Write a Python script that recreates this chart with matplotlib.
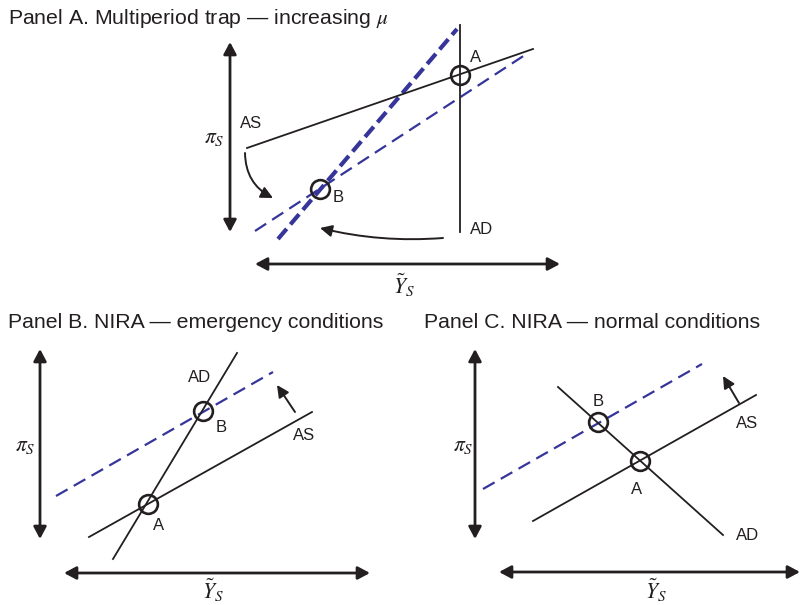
import matplotlib
matplotlib.use("Agg")
import matplotlib.pyplot as plt
from matplotlib.patches import FancyArrowPatch

plt.rcParams['font.family'] = ['Liberation Sans', 'DejaVu Sans']
plt.rcParams['mathtext.fontset'] = 'stix'

# ---------------- data (pixel coordinates of the schematic) ----------------
titles = ["Panel A. Multiperiod trap \u2014 increasing $\\mu$",
          "Panel B. NIRA \u2014 emergency conditions",
          "Panel C. NIRA \u2014 normal conditions"]
title_x = [8, 8, 424]
title_y = [19, 323, 323]

# axis double arrows
vaxis_x = [230, 40, 475]
vaxis_y0 = [42, 349, 349]
vaxis_y1 = [232, 539, 539]
haxis_y = [264, 573, 572]
haxis_x0 = [255, 64, 499]
haxis_x1 = [560, 370, 800]
pi_label_x = [214, 25, 463]
pi_label_y = [137, 446, 445]
y_label_x = [404, 213, 656]
y_label_y = [285, 590, 590]

# Panel A curves
A_AS_x = [247, 533]
A_AS_y = [148, 49]
A_AD_x = [460, 460]
A_AD_y = [25, 232]
A_thin_x = [255, 528]
A_thin_y = [231, 53]
A_thick_x = [278, 457]
A_thick_y = [239, 29]
A_circles_x = [460, 320]
A_circles_y = [75, 189]
A_labels = ["A", "B", "AS", "AD"]
A_labels_x = [470, 333, 240, 470]
A_labels_y = [57, 198, 123, 230]
A_curve1 = [(245, 153), (273, 198)]
A_curve2 = [(443, 238), (320, 228)]

# Panel B curves
B_AD_x = [113, 237]
B_AD_y = [559, 353]
B_AS_x = [89, 312]
B_AS_y = [537, 412]
B_dash_x = [56, 273]
B_dash_y = [496, 372]
B_circles_x = [148, 203]
B_circles_y = [504, 411]
B_labels = ["A", "B", "AD", "AS"]
B_labels_x = [153, 216, 188, 293]
B_labels_y = [525, 428, 377, 436]
B_arrow = [(295, 412), (277, 385)]

# Panel C curves
C_AD_x = [558, 723]
C_AD_y = [387, 535]
C_AS_x = [533, 756]
C_AS_y = [521, 395]
C_dash_x = [483, 702]
C_dash_y = [489, 364]
C_circles_x = [640, 598]
C_circles_y = [461, 422]
C_labels = ["A", "B", "AS", "AD"]
C_labels_x = [631, 593, 736, 736]
C_labels_y = [490, 402, 423, 536]
C_arrow = [(739, 403), (723, 376)]

# ---------------- style ----------------
INK = '#231f20'
BLUE = '#35359a'

fig = plt.figure(figsize=(8.01, 6.05), dpi=100)
ax = fig.add_axes([0, 0, 1, 1])
ax.set_xlim(0, 801)
ax.set_ylim(605, 0)
ax.axis('off')


def dbl_arrow(p0, p1):
    ax.add_patch(FancyArrowPatch(p0, p1,
                                 arrowstyle='<|-|>,head_length=0.6,head_width=0.32',
                                 mutation_scale=12, lw=2.0, color=INK,
                                 shrinkA=0, shrinkB=0))


def arrow(p0, p1, cs='arc3,rad=0'):
    ax.add_patch(FancyArrowPatch(p0, p1,
                                 arrowstyle='-|>,head_length=0.65,head_width=0.32',
                                 mutation_scale=11, lw=1.4, color=INK,
                                 connectionstyle=cs, shrinkA=0, shrinkB=0))


def circles(xs, ys):
    ax.plot(xs, ys, linestyle='none', marker='o', markersize=13.5,
            markerfacecolor='none', markeredgecolor=INK, markeredgewidth=1.9, zorder=5)


for i in range(3):
    ax.text(title_x[i], title_y[i], titles[i], fontsize=15.3, color=INK,
            ha='left', va='center')
    dbl_arrow((vaxis_x[i], vaxis_y0[i]), (vaxis_x[i], vaxis_y1[i]))
    dbl_arrow((haxis_x0[i], haxis_y[i]), (haxis_x1[i], haxis_y[i]))
    ax.text(pi_label_x[i], pi_label_y[i], r'$\pi_S$', fontsize=15.5, color=INK,
            ha='center', va='center')
    ax.text(y_label_x[i], y_label_y[i], r'$\tilde{Y}_S$', fontsize=15.5, color=INK,
            ha='center', va='center')

# Panel A
ax.plot(A_thin_x, A_thin_y, color=BLUE, lw=1.6, dashes=(6, 3.2))
ax.plot(A_thick_x, A_thick_y, color=BLUE, lw=3.0, dashes=(3.2, 1.4))
ax.plot(A_AS_x, A_AS_y, color=INK, lw=1.3)
ax.plot(A_AD_x, A_AD_y, color=INK, lw=1.3)
circles(A_circles_x, A_circles_y)
for t, x, y in zip(A_labels, A_labels_x, A_labels_y):
    ax.text(x, y, t, fontsize=12, color=INK, ha='left', va='center')
arrow(A_curve1[0], A_curve1[1], 'arc3,rad=0.3')
arrow(A_curve2[0], A_curve2[1], 'arc3,rad=-0.08')

# Panel B
ax.plot(B_dash_x, B_dash_y, color=BLUE, lw=1.6, dashes=(6, 3.2))
ax.plot(B_AD_x, B_AD_y, color=INK, lw=1.3)
ax.plot(B_AS_x, B_AS_y, color=INK, lw=1.3)
circles(B_circles_x, B_circles_y)
for t, x, y in zip(B_labels, B_labels_x, B_labels_y):
    ax.text(x, y, t, fontsize=12, color=INK, ha='left', va='center')
arrow(B_arrow[0], B_arrow[1])

# Panel C
ax.plot(C_dash_x, C_dash_y, color=BLUE, lw=1.6, dashes=(6, 3.2))
ax.plot(C_AD_x, C_AD_y, color=INK, lw=1.3)
ax.plot(C_AS_x, C_AS_y, color=INK, lw=1.3)
circles(C_circles_x, C_circles_y)
for t, x, y in zip(C_labels, C_labels_x, C_labels_y):
    ax.text(x, y, t, fontsize=12, color=INK, ha='left', va='center')
arrow(C_arrow[0], C_arrow[1])

fig.savefig('out.png', dpi=100)
